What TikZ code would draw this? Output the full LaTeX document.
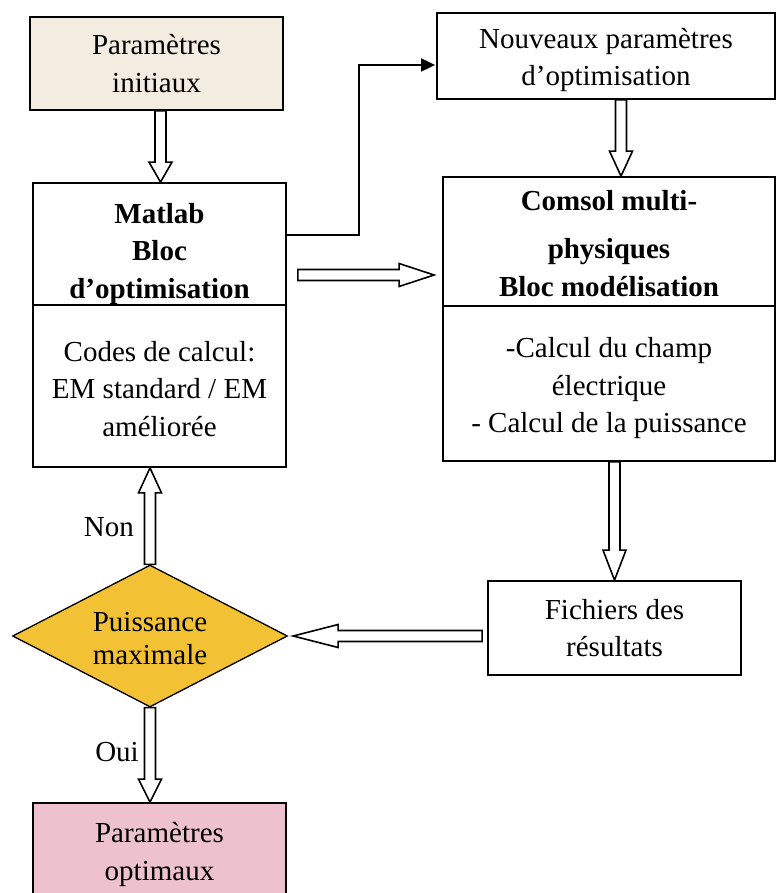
\documentclass[tikz,border=0pt]{standalone}
\usepackage{fontspec}
\setmainfont{Liberation Serif}
\usetikzlibrary{shapes.geometric,calc,arrows.meta}
\definecolor{beigebox}{RGB}{243,236,224}
\definecolor{goldbox}{RGB}{242,193,52}
\definecolor{pinkbox}{RGB}{237,193,205}
\newcommand\tp[1]{\rule{0pt}{#1pt}}
\tikzset{
 box/.style={draw, line width=1.8pt, inner sep=0pt, align=center, font=\fontsize{29}{37.5}\selectfont},
 boldbox/.style={box, font=\fontsize{29}{37.5}\selectfont\bfseries},
 hollow/.style={draw, line width=1.6pt, fill=white, line join=miter},
 lbl/.style={font=\fontsize{29}{34}\selectfont, inner sep=0pt}
}
\newcommand\harrow[3][22pt]{%
 \coordinate (hb) at ($(#3)!#1!(#2)$);
 \draw[hollow] ($(#2)!5.5pt!90:(#3)$) -- ($(hb)!5.5pt!90:(#3)$) -- ($(hb)!11.5pt!90:(#3)$) -- (#3) -- ($(hb)!11.5pt!-90:(#3)$) -- ($(hb)!5.5pt!-90:(#3)$) -- ($(#2)!5.5pt!-90:(#3)$) -- cycle;}
\begin{document}
\begin{tikzpicture}[x=1pt,y=-1pt]
\useasboundingbox (0,0) rectangle (780,893);
\clip (0,0) rectangle (780,893);
\node[box, fill=beigebox, minimum width=253pt, minimum height=93pt] (pi) at (156.5,63.5) {Paramètres\\initiaux};
\node[boldbox, minimum width=253pt, minimum height=122pt] (mt) at (159.5,244) {\tp{40}Matlab\\Bloc\\d’optimisation};
\node[box, minimum width=253pt, minimum height=162pt] (mb) at (159.5,386) {\tp{26}Codes de calcul:\\EM standard / EM\\améliorée};
\node[box, minimum width=338pt, minimum height=86pt] (nv) at (606,56) {\tp{28}Nouveaux paramètres\\d’optimisation};
\node[boldbox, minimum width=332pt, minimum height=129pt] (ct) at (609,241.5) {\tp{24}Comsol multi-\\[11pt]physiques\\Bloc modélisation};
\node[box, minimum width=332pt, minimum height=155pt] (cb) at (609,383.5) {\tp{30}-Calcul du champ\\électrique\\- Calcul de la puissance};
\node[box, minimum width=253pt, minimum height=94pt] (fi) at (614.5,628) {Fichiers des\\résultats};
\node[box, line width=1.3pt, diamond, fill=goldbox, aspect=1.94, minimum width=275pt, minimum height=142pt, font=\fontsize{29}{33}\selectfont] (d) at (150,636) {\tp{24}Puissance\\maximale};
\node[box, fill=pinkbox, minimum width=253pt, minimum height=97pt] (po) at (159.5,851.5) {\tp{26}Paramètres\\optimaux};
% hollow arrows
\coordinate (a1s) at ([xshift=4pt]pi.south);
\coordinate (a1e) at (a1s |- mt.north);
\harrow[20pt]{a1s}{a1e}
\coordinate (a2s) at ([xshift=15pt]nv.south);
\coordinate (a2e) at (a2s |- ct.north);
\harrow[25pt]{a2s}{a2e}
\coordinate (a3s) at ([xshift=11pt,yshift=-31pt]mt.east);
\coordinate (a3e) at ($(ct.west |- a3s)+(-8,0)$);
\harrow[35pt]{a3s}{a3e}
\coordinate (a4s) at (fi.north |- cb.south);
\harrow[30pt]{a4s}{fi.north}
\coordinate (a5s) at ($(fi.west |- d.east)+(-5,0)$);
\coordinate (a5e) at ($(d.east)+(5,0)$);
\harrow[45pt]{a5s}{a5e}
\coordinate (a6e) at (d.north |- mb.south);
\harrow[25pt]{d.north}{a6e}
\coordinate (a7e) at (d.south |- po.north);
\harrow[23pt]{d.south}{a7e}
% line arrow
\draw[line width=1.8pt, -{Triangle[length=14pt,width=13pt]}] ([yshift=9pt]mt.east) -| ($(nv.west)+(-77,9)$) -- ($(nv.west)+(-1,9)$);
% labels
\node[lbl, anchor=east] (non) at (134,527) {Non};
\node[lbl, anchor=east] (oui) at (139,752) {Oui};
\end{tikzpicture}
\end{document}
